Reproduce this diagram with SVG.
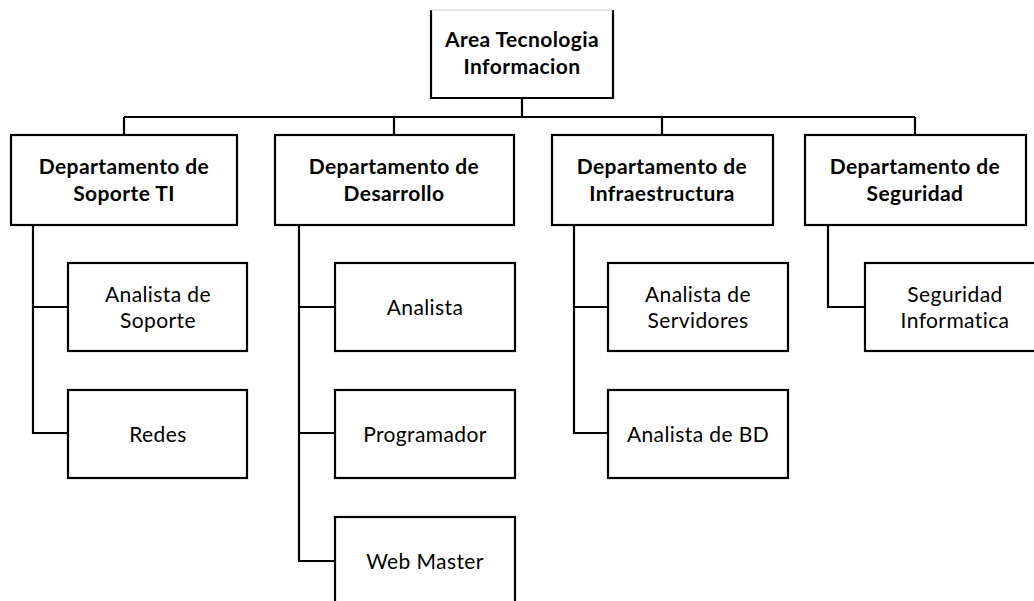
<svg xmlns="http://www.w3.org/2000/svg" width="1034" height="601" viewBox="0 0 1034 601">
<style>
.box{fill:#fff;stroke:#000;stroke-width:2.2}
.ln{fill:none;stroke:#000;stroke-width:2.2}
.b{font-family:Lato,"Open Sans",sans-serif;font-weight:bold;font-size:21px;letter-spacing:0.4px;fill:#000;text-anchor:middle}
.r{font-family:Lato,"Open Sans",sans-serif;font-size:21px;letter-spacing:0.4px;fill:#000;text-anchor:middle}
</style>
<rect width="1034" height="601" fill="#fff"/>
<g id="connectors">
<path class="ln" d="M522,98V117M124,117H915M124,117V135M394,117V135M662,117V135M915,117V135"/>
<path class="ln" d="M33,225V433H68M33,307H68"/>
<path class="ln" d="M299,225V561H335M299,307H335M299,433H335"/>
<path class="ln" d="M574,225V433H608M574,307H608"/>
<path class="ln" d="M828,225V307H865"/>
</g>
<g id="n-area">
<path class="ln" d="M431,10V98H613V10"/>
<line x1="431" y1="10" x2="613" y2="10" stroke="#ccc" stroke-width="1"/>
<text class="b" x="522" y="47">Area Tecnologia</text>
<text class="b" x="522" y="74">Informacion</text>
</g>
<g id="n-soporte">
<rect class="box" x="11" y="135" width="226" height="90"/>
<text class="b" x="124" y="174">Departamento de</text>
<text class="b" x="124" y="201">Soporte TI</text>
</g>
<g id="n-desarrollo">
<rect class="box" x="275" y="135" width="239" height="90"/>
<text class="b" x="394" y="174">Departamento de</text>
<text class="b" x="394" y="201">Desarrollo</text>
</g>
<g id="n-infra">
<rect class="box" x="552" y="135" width="221" height="90"/>
<text class="b" x="662" y="174">Departamento de</text>
<text class="b" x="662" y="201">Infraestructura</text>
</g>
<g id="n-seguridad">
<rect class="box" x="805" y="135" width="221" height="90"/>
<text class="b" x="915" y="174">Departamento de</text>
<text class="b" x="915" y="201">Seguridad</text>
</g>
<g id="n-analista-soporte">
<rect class="box" x="68" y="263" width="179" height="88"/>
<text class="r" x="158" y="302">Analista de</text>
<text class="r" x="158" y="328">Soporte</text>
</g>
<g id="n-redes">
<rect class="box" x="68" y="390" width="179" height="88"/>
<text class="r" x="158" y="442">Redes</text>
</g>
<g id="n-analista">
<rect class="box" x="335" y="263" width="180" height="88"/>
<text class="r" x="425" y="315">Analista</text>
</g>
<g id="n-programador">
<rect class="box" x="335" y="390" width="180" height="88"/>
<text class="r" x="425" y="442">Programador</text>
</g>
<g id="n-webmaster">
<rect class="box" x="335" y="517" width="180" height="100"/>
<text class="r" x="425" y="569">Web Master</text>
</g>
<g id="n-servidores">
<rect class="box" x="608" y="263" width="180" height="88"/>
<text class="r" x="698" y="302">Analista de</text>
<text class="r" x="698" y="328">Servidores</text>
</g>
<g id="n-bd">
<rect class="box" x="608" y="390" width="180" height="88"/>
<text class="r" x="698" y="442">Analista de BD</text>
</g>
<g id="n-seg-info">
<rect class="box" x="865" y="263" width="180" height="88"/>
<text class="r" x="955" y="302">Seguridad</text>
<text class="r" x="955" y="328">Informatica</text>
</g>
</svg>
